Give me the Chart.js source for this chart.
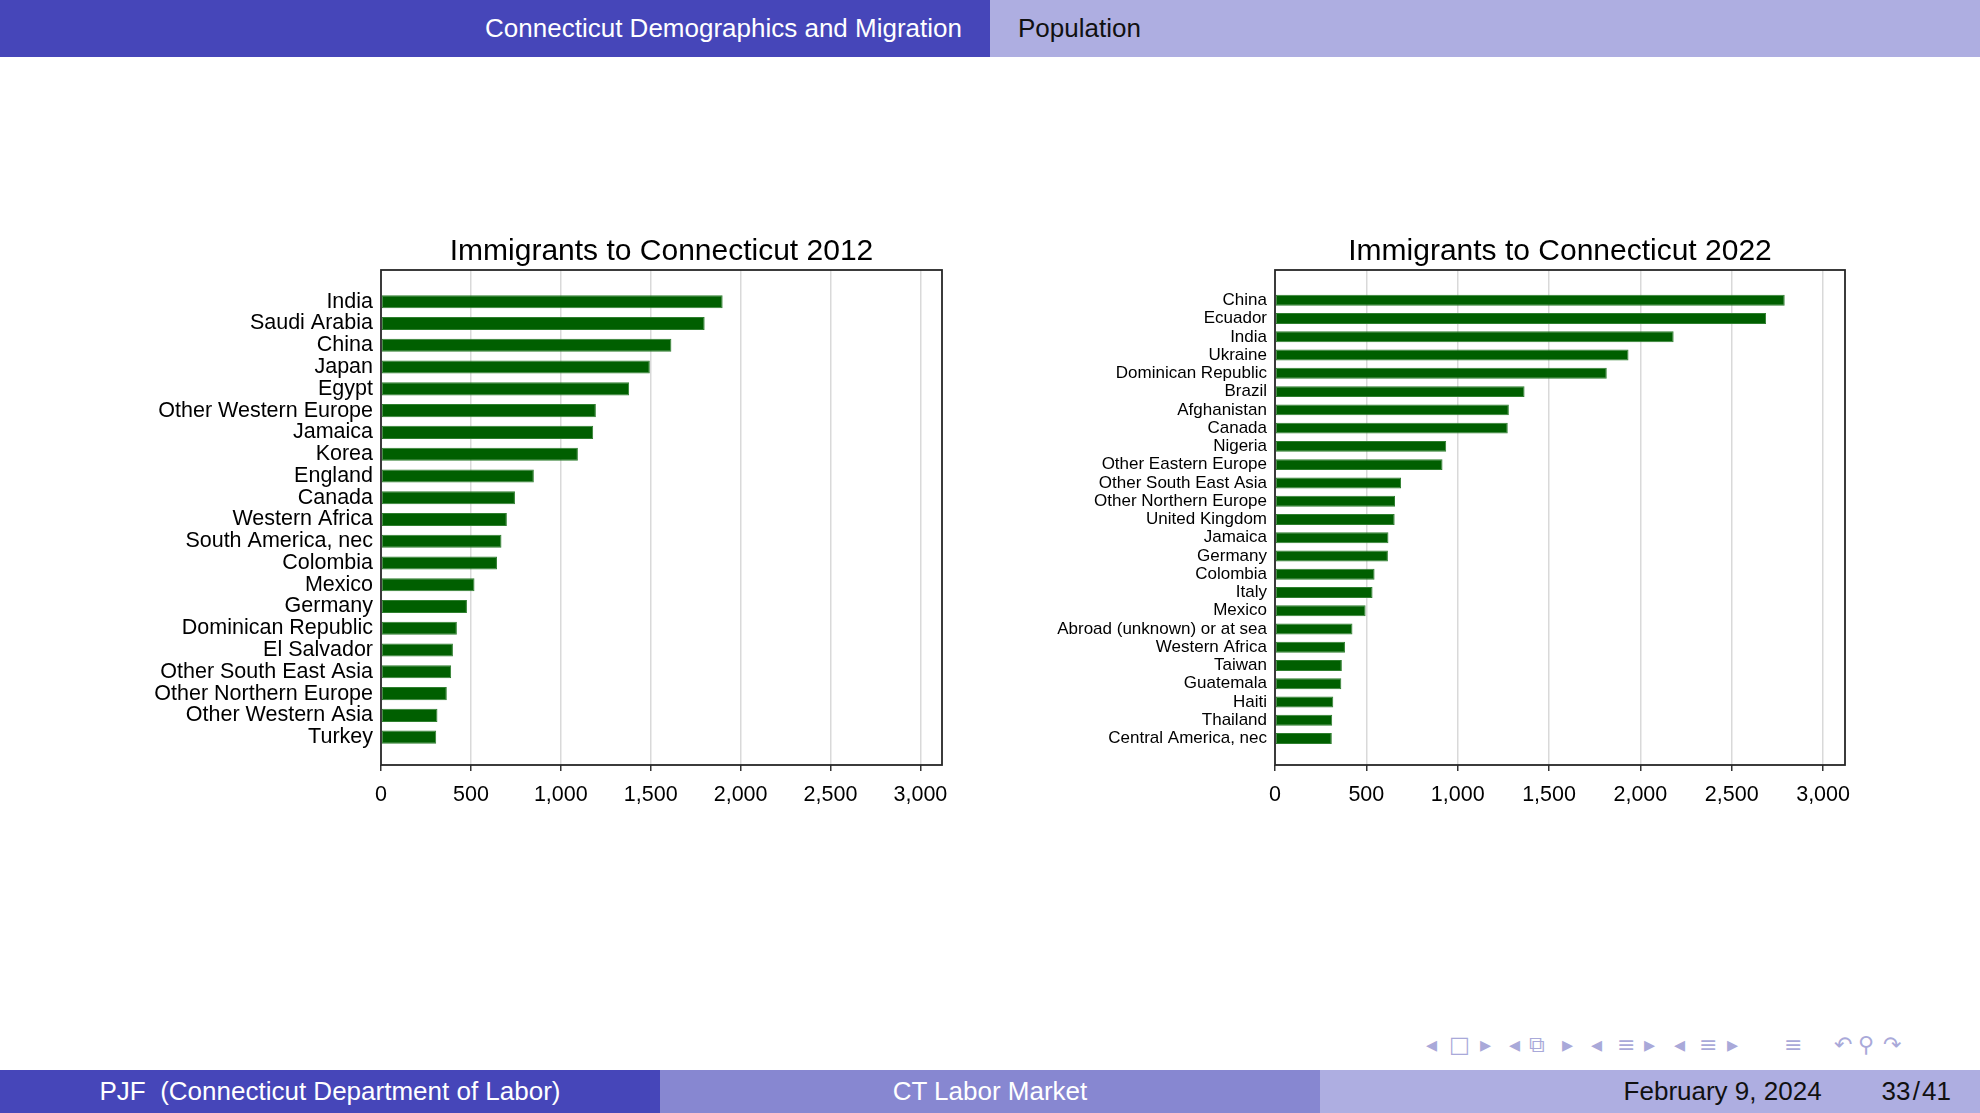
<!DOCTYPE html>
<html>
<head>
<meta charset="utf-8">
<script src="https://cdn.jsdelivr.net/npm/chart.js@4.4.1/dist/chart.umd.min.js"></script>
<style>
  html, body { margin:0; padding:0; background:#ffffff; }
  body { width:1980px; height:1113px; position:relative; overflow:hidden; font-family:'Liberation Sans', Arial, sans-serif; }
  .bar { position:absolute; box-sizing:border-box; white-space:nowrap; }
  #hdrL { left:0; top:0; width:990px; height:57px; background:#4646b9; color:#fff; font-size:26px; text-align:right; padding-right:28px; line-height:56px; }
  #hdrR { left:990px; top:0; width:990px; height:57px; background:#aeaee1; color:#111; font-size:26px; padding-left:28px; line-height:56px; }
  #ftL { left:0; top:1070px; width:660px; height:43px; background:#4646b9; color:#fff; font-size:26px; text-align:center; line-height:43px; }
  #ftM { left:660px; top:1070px; width:660px; height:43px; background:#8787d1; color:#fff; font-size:26px; text-align:center; line-height:43px; }
  #ftR { left:1320px; top:1070px; width:660px; height:43px; background:#aeaee1; color:#111; font-size:26px; text-align:right; padding-right:29px; line-height:43px; }
  canvas { position:absolute; }
  .nav { position:absolute; top:1028px; color:#a9a9d9; font-family:'DejaVu Sans', sans-serif; font-size:22px; line-height:34px; }
</style>
</head>
<body>
<div class="bar" id="hdrL">Connecticut Demographics and Migration</div>
<div class="bar" id="hdrR">Population</div>

<canvas id="c2012" width="860" height="595" style="left:100px;top:230px;"></canvas>
<canvas id="c2022" width="865" height="595" style="left:1000px;top:230px;"></canvas>

<span class="nav" style="left:1426px;">◂</span>
<span class="nav" style="left:1449px;">□</span>
<span class="nav" style="left:1480px;">▸</span>
<span class="nav" style="left:1509px;">◂</span>
<span class="nav" style="left:1529px;">⧉</span>
<span class="nav" style="left:1562px;">▸</span>
<span class="nav" style="left:1591px;">◂</span>
<span class="nav" style="left:1617px;">≡</span>
<span class="nav" style="left:1644px;">▸</span>
<span class="nav" style="left:1674px;">◂</span>
<span class="nav" style="left:1699px;">≡</span>
<span class="nav" style="left:1727px;">▸</span>
<span class="nav" style="left:1784px;">≡</span>
<span class="nav" style="left:1834px;">↶</span>
<span class="nav" style="left:1858px;">⚲</span>
<span class="nav" style="left:1883px;">↷</span>

<div class="bar" id="ftL">PJF&nbsp;&nbsp;(Connecticut Department of Labor)</div>
<div class="bar" id="ftM">CT Labor Market</div>
<div class="bar" id="ftR">February 9, 2024<span style="display:inline-block;width:60px;"></span>33&#8202;/&#8202;41</div>

<script>
// ---- data ----
const cats2012 = ["India","Saudi Arabia","China","Japan","Egypt","Other Western Europe","Jamaica","Korea","England","Canada","Western Africa","South America, nec","Colombia","Mexico","Germany","Dominican Republic","El Salvador","Other South East Asia","Other Northern Europe","Other Western Asia","Turkey"];
const vals2012 = [1900,1800,1615,1495,1380,1195,1180,1095,850,745,700,670,645,520,478,422,400,390,366,314,307];

const cats2022 = ["China","Ecuador","India","Ukraine","Dominican Republic","Brazil","Afghanistan","Canada","Nigeria","Other Eastern Europe","Other South East Asia","Other Northern Europe","United Kingdom","Jamaica","Germany","Colombia","Italy","Mexico","Abroad (unknown) or at sea","Western Africa","Taiwan","Guatemala","Haiti","Thailand","Central America, nec"];
const vals2022 = [2790,2688,2182,1935,1816,1366,1280,1274,937,917,690,657,655,621,618,545,534,496,424,383,366,363,319,313,311];

const xTicks = [0,500,1000,1500,2000,2500,3000];
const xMax = 3120;

Chart.defaults.font.family = "'Liberation Sans', Arial, Helvetica, sans-serif";
Chart.defaults.color = '#000';

const boxPlugin = {
  id: 'box',
  afterDatasetsDraw(chart) {
    const a = chart.chartArea, ctx = chart.ctx;
    ctx.save();
    ctx.strokeStyle = '#262626';
    ctx.lineWidth = 1.8;
    ctx.strokeRect(a.left, a.top, a.right - a.left, a.bottom - a.top);
    ctx.restore();
  }
};

function makeChart(id, cats, vals, title, labelSize, yAxisWidth, padRight, padTop, padBottom) {
  return new Chart(document.getElementById(id), {
    type: 'bar',
    data: {
      datasets: [{
        data: vals.map((v, i) => ({ x: v, y: i })),
        backgroundColor: '#005f00',
        borderColor: '#2f7f2f',
        borderWidth: 1,
        borderSkipped: false,
        categoryPercentage: 1.0,
        barPercentage: 0.6
      }]
    },
    options: {
      indexAxis: 'y',
      responsive: false,
      animation: false,
      layout: { padding: { left: 0, right: padRight, top: 0, bottom: 0 } },
      plugins: {
        legend: { display: false },
        tooltip: { enabled: false },
        title: {
          display: true, text: title, fullSize: false,
          color: '#000',
          font: { size: 30, weight: 'normal', lineHeight: 1.2 },
          padding: { top: 4, bottom: 0 }
        }
      },
      scales: {
        x: {
          type: 'linear', min: 0, max: xMax,
          afterBuildTicks: (s) => { s.ticks = xTicks.map(v => ({ value: v })); },
          afterFit: (s) => { s.height = 60; },
          border: { display: false },
          grid: {
            color: (c) => (c.tick && c.tick.value === 0) ? 'rgba(0,0,0,0)' : '#d9d9d9',
            lineWidth: 1.5,
            drawTicks: true, tickLength: 6, tickColor: '#333', tickWidth: 1.5
          },
          ticks: {
            font: { size: 21.5 }, color: '#000', padding: 11.5,
            maxRotation: 0, autoSkip: false,
            callback: (v) => Number(v).toLocaleString('en-US')
          }
        },
        y: {
          type: 'linear', reverse: true, offset: false,
          min: -padTop, max: cats.length - 1 + padBottom,
          afterBuildTicks: (s) => { s.ticks = cats.map((c, i) => ({ value: i })); },
          afterFit: (s) => { s.width = yAxisWidth; },
          border: { display: false },
          grid: { display: false, drawTicks: false },
          ticks: {
            font: { size: labelSize }, color: '#000', padding: 8,
            autoSkip: false,
            callback: (v) => cats[v]
          }
        }
      }
    },
    plugins: [boxPlugin]
  });
}

makeChart('c2012', cats2012, vals2012, 'Immigrants to Connecticut 2012', 21.5, 281, 18, 1.46, 1.28);
makeChart('c2022', cats2022, vals2022, 'Immigrants to Connecticut 2022', 17, 275, 20, 1.66, 1.45);
</script>
</body>
</html>
